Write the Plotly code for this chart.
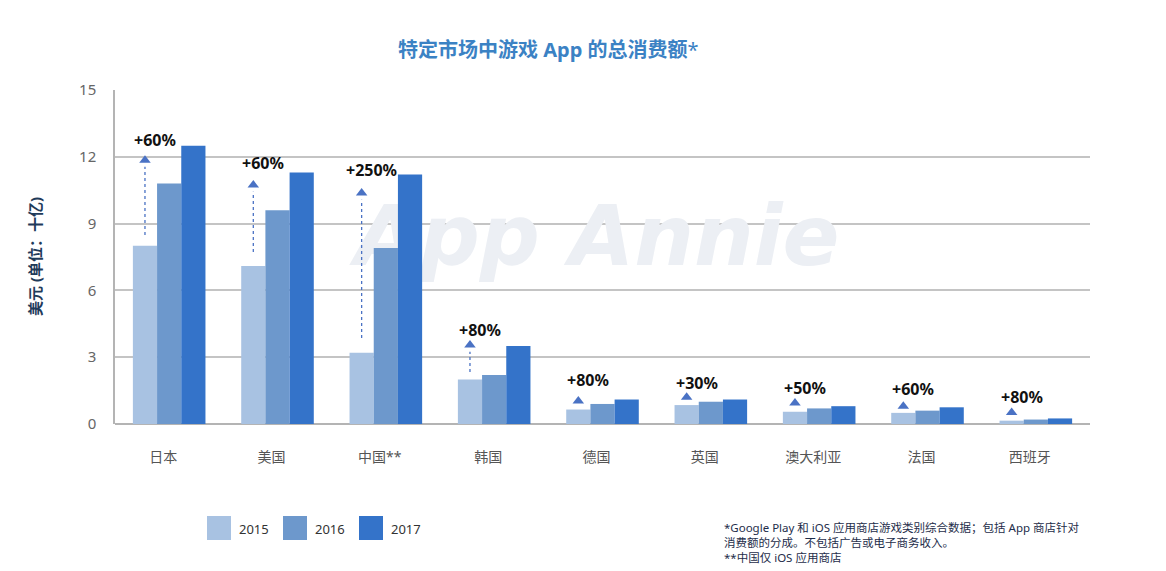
import plotly.graph_objects as go

categories = ["日本", "美国", "中国**", "韩国", "德国", "英国", "澳大利亚", "法国", "西班牙"]
years = ["2015", "2016", "2017"]
v2015 = [8.0, 7.1, 3.2, 2.0, 0.65, 0.85, 0.55, 0.5, 0.15]
v2016 = [10.8, 9.6, 7.9, 2.2, 0.9, 1.0, 0.7, 0.6, 0.2]
v2017 = [12.5, 11.3, 11.2, 3.5, 1.1, 1.1, 0.8, 0.75, 0.25]
growth = ["+60%", "+60%", "+250%", "+80%", "+80%", "+30%", "+50%", "+60%", "+80%"]
label_y = [12.75, 11.72, 11.4, 4.22, 1.98, 1.84, 1.62, 1.57, 1.2]
arrow_top = [11.85, 10.73, 10.37, 3.55, 1.03, 1.2, 0.94, 0.8, 0.52]
arrow_bottom = [8.49, 7.72, 3.86, 2.33, None, None, None, None, None]
y_ticks = [0, 3, 6, 9, 12, 15]
watermark = "App Annie"

colors = ["#a8c2e2", "#6d98cc", "#3473c9"]
arrow_color = "#4a72c4"
FONT = "Noto Sans, Noto Sans CJK SC, sans-serif"

def px_x(p):
    return (p - 115) / 975

def px_y(p):
    return (424 - p) / 334

xs = list(range(len(categories)))
bargap = 0.33
bw = (1 - bargap) / 3
xr = [-0.5, len(categories) - 0.5]

fig = go.Figure()
# watermark on the base axes so the overlaid bar axes draw above it
fig.add_trace(go.Scatter(x=[3.95], y=[8.1], mode="text", text=[watermark],
                         textfont=dict(size=84, color="#eceff4", family="DejaVu Sans",
                                       style="italic", weight="bold"),
                         showlegend=False, hoverinfo="skip", xaxis="x", yaxis="y"))

for yr, vals, col in zip(years, [v2015, v2016, v2017], colors):
    fig.add_trace(go.Bar(x=xs, y=vals, name=yr, marker=dict(color=col, line=dict(width=0)),
                         showlegend=False, hoverinfo="y", xaxis="x2", yaxis="y2"))

x15 = [x - bw for x in xs]
for x, b, t in zip(x15, arrow_bottom, arrow_top):
    if b is not None:
        fig.add_trace(go.Scatter(x=[x, x], y=[b, t - 0.3], mode="lines",
                                 line=dict(color=arrow_color, width=1.3, dash="dot"),
                                 showlegend=False, hoverinfo="skip", xaxis="x2", yaxis="y2"))
fig.add_trace(go.Scatter(x=x15, y=arrow_top, mode="markers",
                         marker=dict(symbol="triangle-up", size=10, color=arrow_color),
                         showlegend=False, hoverinfo="skip", xaxis="x2", yaxis="y2"))

annotations = []
for x, g, ly in zip(x15, growth, label_y):
    annotations.append(dict(x=x, y=ly, xref="x2", yref="y2", text=f"<b>{g}</b>", showarrow=False,
                            xshift=10, font=dict(size=16, color="#111111", family=FONT)))

annotations.append(dict(x=px_x(548), y=px_y(50), xref="paper", yref="paper",
                        text="<b>特定市场中游戏 App 的总消费额</b>*", xanchor="center", yanchor="middle",
                        showarrow=False, font=dict(size=20, color="#3b82c4", family=FONT)))

shapes = []
leg_x = [207, 283, 359]
for lx, yr, col in zip(leg_x, years, colors):
    shapes.append(dict(type="rect", xref="paper", yref="paper",
                       x0=px_x(lx), x1=px_x(lx + 24), y0=px_y(540), y1=px_y(516),
                       fillcolor=col, line=dict(width=0)))
    annotations.append(dict(x=px_x(lx + 30), y=px_y(529), xref="paper", yref="paper",
                            text=yr, showarrow=False, xanchor="left", yanchor="middle",
                            font=dict(size=13, color="#333333", family=FONT)))

annotations.append(dict(x=px_x(722), y=px_y(518), xref="paper", yref="paper",
                        xanchor="left", yanchor="top", align="left", showarrow=False,
                        text="*Google Play 和 iOS 应用商店游戏类别综合数据；包括 App 商店针对<br>消费额的分成。不包括广告或电子商务收入。<br>**中国仅 iOS 应用商店",
                        font=dict(size=11.5, color="#1e2d4a", family=FONT)))

annotations.append(dict(x=px_x(35), y=0.5, xref="paper", yref="paper", text="<b>美元 (单位：十亿)</b>",
                        textangle=-90, showarrow=False, xanchor="center", yanchor="middle",
                        font=dict(size=15, color="#1f3b5a", family=FONT)))

fig.update_layout(
    width=1166, height=571,
    margin=dict(l=115, r=76, t=90, b=147),
    barmode="group", bargap=bargap, bargroupgap=0,
    plot_bgcolor="white", paper_bgcolor="white",
    font=dict(family=FONT),
    annotations=annotations, shapes=shapes,
    showlegend=False,
    xaxis=dict(tickvals=xs, ticktext=categories, range=xr,
               showgrid=False, zeroline=False, showline=False, ticks="",
               tickfont=dict(size=14, color="#555555", family=FONT),
               ticklabelshift=-6, ticklabelstandoff=23),
    yaxis=dict(range=[0, 15], tickvals=y_ticks, showgrid=True, gridcolor="#c4c4c4", gridwidth=1.5,
               zeroline=True, zerolinecolor="#b4b4b4", zerolinewidth=1.5,
               showline=True, linecolor="#b4b4b4", linewidth=1.5, ticks="",
               tickfont=dict(size=15, color="#666666", family=FONT), ticklabelstandoff=14),
    xaxis2=dict(overlaying="x", matches="x", range=xr, visible=False),
    yaxis2=dict(overlaying="y", matches="y", range=[0, 15], visible=False),
)

fig.write_html("out.html")
